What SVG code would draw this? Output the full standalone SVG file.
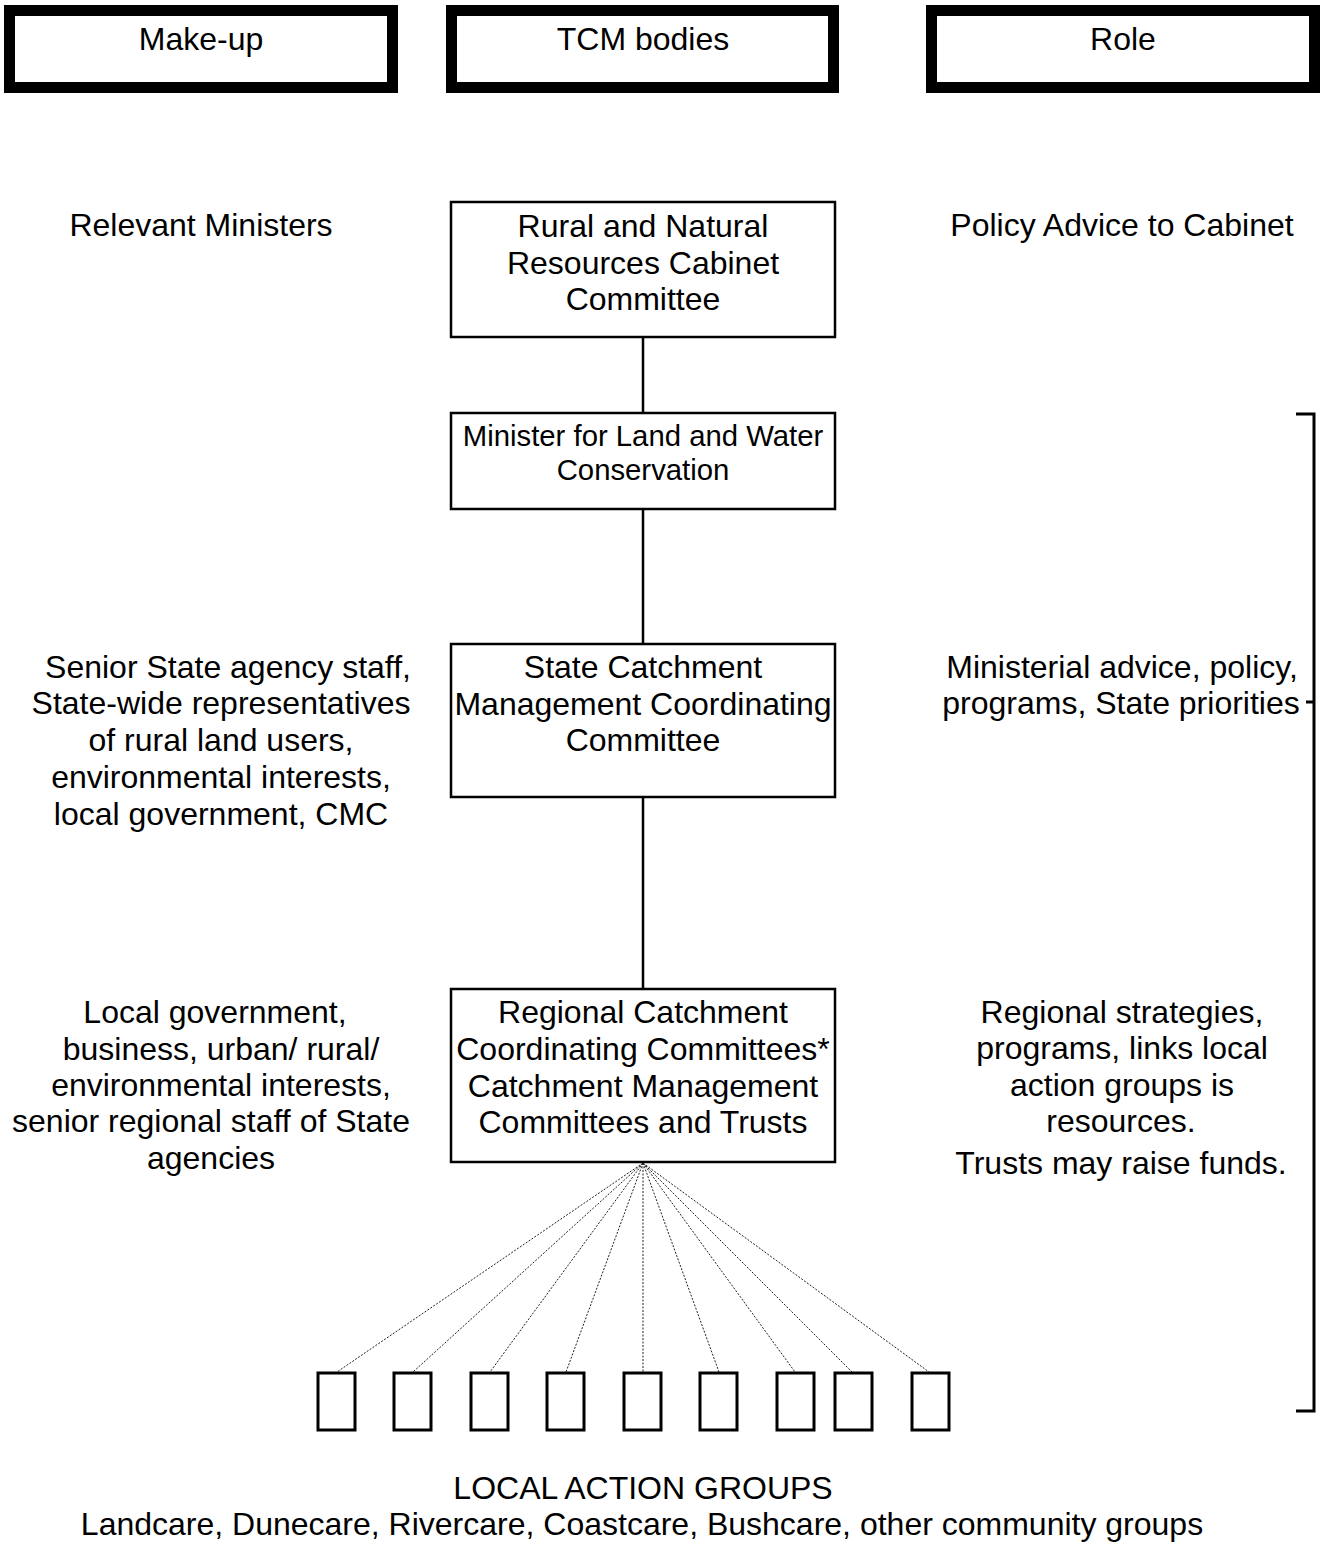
<svg xmlns="http://www.w3.org/2000/svg" width="1324" height="1544" viewBox="0 0 1324 1544">
<style>
text{font-family:"Liberation Sans",Arial,sans-serif;fill:#000;text-anchor:middle}
.t{font-size:32px}
.s{font-size:29.3px}
.hdr{fill:#fff;stroke:#000;stroke-width:11}
.box{fill:#fff;stroke:#000;stroke-width:2.5}
.lag{fill:#fff;stroke:#000;stroke-width:3}
.con{stroke:#000;stroke-width:2.5;fill:none}
.dot{stroke:#222;stroke-width:1;stroke-dasharray:2 1.5;fill:none}
.br{stroke:#000;stroke-width:3;fill:none}
</style>
<rect width="1324" height="1544" fill="#fff"/>
<g id="header-makeup"><rect class="hdr" x="9.5" y="10.5" width="383" height="77"/><text class="t" x="201" y="50">Make-up</text></g>
<g id="header-tcm"><rect class="hdr" x="451.5" y="10.5" width="382" height="77"/><text class="t" x="643" y="50">TCM bodies</text></g>
<g id="header-role"><rect class="hdr" x="931.5" y="10.5" width="383" height="77"/><text class="t" x="1123" y="50">Role</text></g>

<g id="connectors">
<line class="con" x1="643" y1="337" x2="643" y2="413"/>
<line class="con" x1="643" y1="509" x2="643" y2="644"/>
<line class="con" x1="643" y1="797" x2="643" y2="989"/>
<line class="dot" x1="643" y1="1163" x2="337" y2="1372"/>
<line class="dot" x1="643" y1="1163" x2="413" y2="1372"/>
<line class="dot" x1="643" y1="1163" x2="490" y2="1372"/>
<line class="dot" x1="643" y1="1163" x2="566" y2="1372"/>
<line class="dot" x1="643" y1="1163" x2="643" y2="1372"/>
<line class="dot" x1="643" y1="1163" x2="719" y2="1372"/>
<line class="dot" x1="643" y1="1163" x2="795" y2="1372"/>
<line class="dot" x1="643" y1="1163" x2="852" y2="1372"/>
<line class="dot" x1="643" y1="1163" x2="929" y2="1372"/>
</g>

<g id="node-cabinet"><rect class="box" x="451" y="202" width="384" height="135"/>
<text class="t" x="643" y="237">Rural and Natural</text><text class="t" x="643" y="274">Resources Cabinet</text><text class="t" x="643" y="310">Committee</text></g>
<g id="node-minister"><rect class="box" x="451" y="413" width="384" height="96"/>
<text class="s" x="643" y="446">Minister for Land and Water</text><text class="s" x="643" y="480">Conservation</text></g>
<g id="node-state"><rect class="box" x="451" y="644" width="384" height="153"/>
<text class="t" x="643" y="678">State Catchment</text><text class="t" x="643" y="715">Management Coordinating</text><text class="t" x="643" y="751">Committee</text></g>
<g id="node-regional"><rect class="box" x="451" y="989" width="384" height="173"/>
<text class="t" x="643" y="1023">Regional Catchment</text><text class="t" x="643" y="1060">Coordinating Committees*</text><text class="t" x="643" y="1097">Catchment Management</text><text class="t" x="643" y="1133">Committees and Trusts</text></g>

<g id="local-groups">
<rect class="lag" x="318" y="1373" width="37" height="57"/>
<rect class="lag" x="394" y="1373" width="37" height="57"/>
<rect class="lag" x="471" y="1373" width="37" height="57"/>
<rect class="lag" x="547" y="1373" width="37" height="57"/>
<rect class="lag" x="624" y="1373" width="37" height="57"/>
<rect class="lag" x="700" y="1373" width="37" height="57"/>
<rect class="lag" x="777" y="1373" width="37" height="57"/>
<rect class="lag" x="835" y="1373" width="37" height="57"/>
<rect class="lag" x="912" y="1373" width="37" height="57"/>
<text class="t" x="643" y="1499">LOCAL ACTION GROUPS</text>
<text class="t" x="642" y="1535">Landcare, Dunecare, Rivercare, Coastcare, Bushcare, other community groups</text>
</g>

<g id="makeup-text">
<text class="t" x="201" y="236">Relevant Ministers</text>
<text class="t" x="228" y="678">Senior State agency staff,</text>
<text class="t" x="221" y="714">State-wide representatives</text>
<text class="t" x="221" y="751">of rural land users,</text>
<text class="t" x="221" y="788">environmental interests,</text>
<text class="t" x="221" y="825">local government, CMC</text>
<text class="t" x="215" y="1023">Local government,</text>
<text class="t" x="221" y="1060">business, urban/ rural/</text>
<text class="t" x="221" y="1096">environmental interests,</text>
<text class="t" x="211" y="1132">senior regional staff of State</text>
<text class="t" x="211" y="1169">agencies</text>
</g>

<g id="role-text">
<text class="t" x="1122" y="236">Policy Advice to Cabinet</text>
<text class="t" x="1122" y="678">Ministerial advice, policy,</text>
<text class="t" x="1121" y="714">programs, State priorities</text>
<text class="t" x="1122" y="1023">Regional strategies,</text>
<text class="t" x="1122" y="1059">programs, links local</text>
<text class="t" x="1122" y="1096">action groups is</text>
<text class="t" x="1121" y="1132">resources.</text>
<text class="t" x="1121" y="1174">Trusts may raise funds.</text>
</g>

<g id="bracket">
<polyline class="br" points="1296,414 1314,414 1314,1411 1296,1411"/>
<line class="br" x1="1306" y1="702" x2="1314" y2="702"/>
</g>
</svg>
